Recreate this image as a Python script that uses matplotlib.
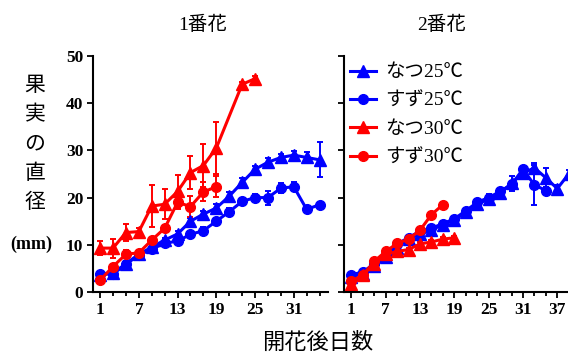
import matplotlib
matplotlib.use('Agg')
import matplotlib.pyplot as plt
from matplotlib.lines import Line2D
from matplotlib.ticker import MultipleLocator

# 1番花
days_l = list(range(1, 36, 2))
natsu25_1 = [3.7, 4.0, 6.0, 8.0, 9.5, 11.0, 12.3, 15.0, 16.5, 17.8, 20.3, 23.2, 26.0, 27.5, 28.5, 29.0, 28.5, 28.0]
natsu25_1_err = [0.5, 0.5, 0.5, 0.5, 0.5, 0.5, 0.7, 0.7, 0.7, 0.8, 0.8, 1.0, 0.8, 0.8, 0.8, 0.8, 1.2, 3.7]
suzu25_1 = [3.8, 3.8, 5.9, 7.8, 9.1, 10.3, 10.8, 12.2, 13.0, 15.0, 17.0, 19.2, 20.0, 20.0, 22.0, 22.3, 17.5, 18.5]
suzu25_1_err = [0.4, 0.4, 0.5, 0.5, 0.5, 0.6, 0.6, 0.6, 0.7, 0.7, 0.8, 0.8, 0.8, 1.5, 1.0, 1.0, 0.6, 0.6]
days_n30_1 = [1, 3, 5, 7, 9, 11, 13, 15, 17, 19, 23, 25]
natsu30_1 = [9.3, 9.3, 12.6, 12.8, 18.2, 18.6, 21.3, 25.3, 26.8, 30.5, 44.0, 45.2]
natsu30_1_err = [1.5, 2.0, 1.8, 0.8, 4.5, 3.2, 3.4, 3.5, 4.5, 5.5, 0.5, 0.5]
days_s30_1 = list(range(1, 20, 2))
suzu30_1 = [2.5, 5.4, 8.0, 8.3, 11.0, 13.5, 19.0, 18.1, 21.2, 22.3]
suzu30_1_err = [0.5, 0.5, 0.8, 0.5, 0.7, 0.8, 1.5, 2.2, 2.0, 2.2]

# 2番花
days_n25_2 = list(range(1, 40, 2))
natsu25_2 = [3.2, 3.9, 5.5, 7.4, 9.4, 11.3, 12.2, 13.2, 14.2, 15.3, 16.9, 18.7, 19.6, 21.0, 23.0, 25.2, 26.3, 24.2, 21.9, 25.0]
natsu25_2_err = [0.4, 0.4, 0.5, 0.5, 0.5, 0.5, 0.5, 0.6, 0.6, 0.6, 0.7, 0.7, 0.7, 0.8, 1.5, 0.8, 1.0, 2.0, 0.8, 0.8]
days_s25_2 = list(range(1, 36, 2))
suzu25_2 = [3.6, 4.3, 5.9, 7.8, 10.2, 11.5, 12.9, 13.5, 14.5, 15.5, 17.2, 19.0, 20.0, 21.3, 22.8, 26.0, 22.7, 21.5]
suzu25_2_err = [0.4, 0.4, 0.5, 0.5, 0.5, 0.5, 0.5, 0.6, 0.6, 0.6, 0.7, 0.7, 0.7, 0.8, 0.8, 0.8, 4.2, 0.8]
days_n30_2 = list(range(1, 20, 2))
natsu30_2 = [1.8, 3.6, 6.0, 8.0, 8.6, 9.0, 10.2, 10.6, 11.2, 11.5]
natsu30_2_err = [0.3, 0.3, 0.4, 0.4, 0.4, 0.4, 0.4, 0.4, 0.4, 0.4]
days_s30_2 = list(range(1, 18, 2))
suzu30_2 = [2.3, 3.6, 6.5, 8.6, 10.3, 11.2, 13.1, 16.4, 18.5]
suzu30_2_err = [0.3, 0.3, 0.4, 0.4, 0.5, 0.5, 0.5, 0.6, 0.6]

labels = ['なつ25℃', 'すず25℃', 'なつ30℃', 'すず30℃']
xticks_l = [1, 7, 13, 19, 25, 31]
xticks_r = [1, 7, 13, 19, 25, 31, 37]

jp = ['Liberation Serif', 'Noto Sans CJK JP']
blue = '#0000ff'
red = '#ff0000'

fig = plt.figure(figsize=(5.68, 3.57), dpi=100)
ax1 = fig.add_axes([93 / 568, 65 / 357, 235 / 568, 236 / 357])
ax2 = fig.add_axes([344 / 568, 65 / 357, 259 / 568, 236 / 357])


def draw(ax, x, y, e, color, marker, ms):
	ax.errorbar(x, y, yerr=e, color=color, marker=marker, markersize=ms, linewidth=2.2,
		elinewidth=1.4, capsize=2.5, capthick=1.4, clip_on=False)


draw(ax1, days_l, natsu25_1, natsu25_1_err, blue, '^', 8.5)
draw(ax1, days_l, suzu25_1, suzu25_1_err, blue, 'o', 7)
draw(ax1, days_n30_1, natsu30_1, natsu30_1_err, red, '^', 8.5)
draw(ax1, days_s30_1, suzu30_1, suzu30_1_err, red, 'o', 7)

draw(ax2, days_n25_2, natsu25_2, natsu25_2_err, blue, '^', 8.5)
draw(ax2, days_s25_2, suzu25_2, suzu25_2_err, blue, 'o', 7)
draw(ax2, days_n30_2, natsu30_2, natsu30_2_err, red, '^', 8.5)
draw(ax2, days_s30_2, suzu30_2, suzu30_2_err, red, 'o', 7)

ax1.set_xlim(-0.1, 36.3)
ax2.set_xlim(-0.3, 45)
for ax, xt in ((ax1, xticks_l), (ax2, xticks_r)):
	ax.set_ylim(0, 50)
	ax.spines['top'].set_visible(False)
	ax.spines['right'].set_visible(False)
	ax.spines['left'].set_linewidth(1.5)
	ax.spines['bottom'].set_linewidth(1.5)
	ax.yaxis.set_major_locator(MultipleLocator(10))
	ax.set_xticks(xt)
	ax.set_xticklabels([str(v) for v in xt])
	ax.xaxis.set_minor_locator(MultipleLocator(2, offset=1))
	ax.tick_params(which='major', length=4, width=1.3, pad=3)
	ax.tick_params(which='minor', length=3, width=1.3)
	for t in ax.get_xticklabels() + ax.get_yticklabels():
		t.set_fontfamily('Liberation Serif')
		t.set_fontweight('bold')
		t.set_fontsize(12.5)
ax2.tick_params(axis='y', labelleft=False)

handles = [
	Line2D([], [], color=blue, marker='^', markersize=8.5, linewidth=2.2),
	Line2D([], [], color=blue, marker='o', markersize=7, linewidth=2.2),
	Line2D([], [], color=red, marker='^', markersize=8.5, linewidth=2.2),
	Line2D([], [], color=red, marker='o', markersize=7, linewidth=2.2),
]
ax2.legend(handles, labels, loc='upper left', bbox_to_anchor=(-0.005, 1.0), frameon=False,
	prop={'family': jp, 'size': 14}, handlelength=1.3, handletextpad=0.5,
	labelspacing=0.55, borderaxespad=0)

fig.text(203 / 568, 1 - 25 / 357, '1番花', family=jp, fontsize=14, ha='center', va='center')
fig.text(442 / 568, 1 - 25 / 357, '2番花', family=jp, fontsize=14, ha='center', va='center')
fig.text(318 / 568, 1 - 343 / 357, '開花後日数', family=jp, fontsize=16, ha='center', va='center')
fig.text(35 / 568, 1 - 145 / 357, '果\n実\nの\n直\n径', family=jp, fontsize=15,
	ha='center', va='center', linespacing=1.7)
fig.text(31 / 568, 1 - 244 / 357, '(mm)', family='Liberation Serif', fontweight='bold',
	fontsize=13, ha='center', va='center')

fig.savefig('out.png', dpi=100)
